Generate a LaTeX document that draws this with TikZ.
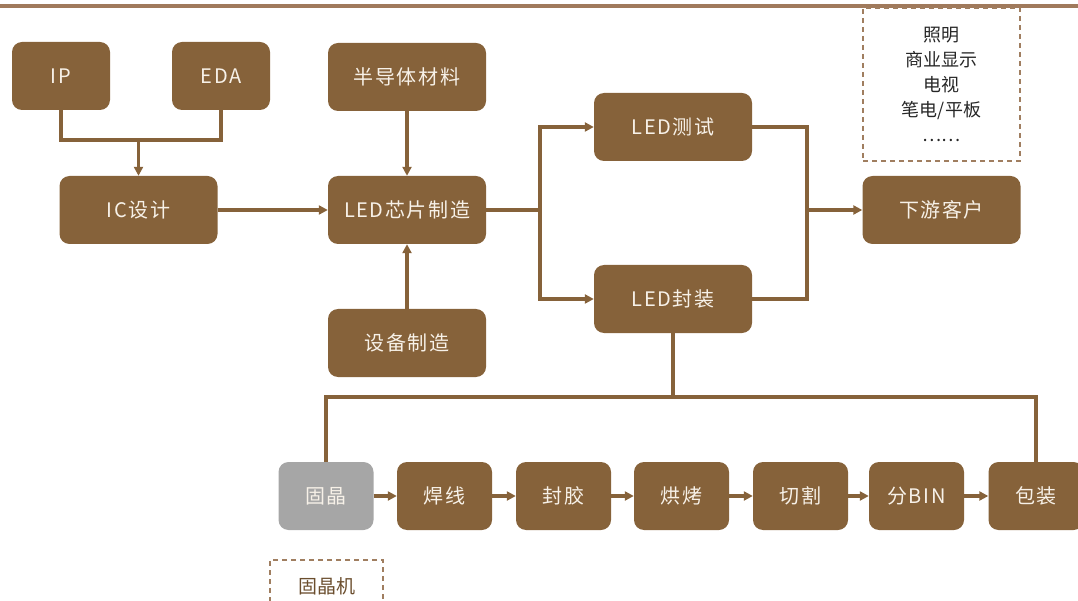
\documentclass[tikz,border=0pt]{standalone}
\usepackage{fontspec}
\setmainfont{Noto Sans CJK SC}
\newfontfamily\bxfont{Noto Sans CJK SC}[LetterSpace=8]
\usetikzlibrary{arrows.meta}
\definecolor{brn}{HTML}{86623A}
\definecolor{gry}{HTML}{A6A6A6}
\definecolor{rulec}{HTML}{A07A5C}
\definecolor{dsh}{HTML}{A07E60}
\definecolor{txt}{HTML}{F7F1E8}
\begin{document}
\begin{tikzpicture}[x=1pt,y=-1pt,
  box/.style={fill=brn, rounded corners=10pt, minimum width=158pt, minimum height=68pt,
    text=txt, font=\bxfont\fontsize{20}{20}\selectfont, inner sep=0pt},
  sbox/.style={box, minimum width=95pt},
  ln/.style={draw=brn, line width=3.5pt},
  arr/.style={ln, -{Triangle[length=9pt,width=9pt]}},
  dbox/.style={draw=dsh, dashed, line width=1.5pt, dash pattern=on 5pt off 4pt, inner sep=0pt}]
\useasboundingbox (0,0) rectangle (1078,601);
\draw[draw=rulec, line width=3.5pt] (0,6) -- (1078,6);

\node[box, minimum width=98pt] (ip) at (61,76) {IP};
\node[box, minimum width=98pt] (eda) at (221,76) {EDA};
\node[box] (semi) at (407,77) {半导体材料};
\node[box] (ic) at (138.5,210) {IC设计};
\node[box] (chip) at (407,210) {LED芯片制造};
\node[box] (equip) at (407,343) {设备制造};
\node[box] (test) at (673,127) {LED测试};
\node[box] (pack) at (673,299) {LED封装};
\node[box] (cust) at (941.5,210) {下游客户};
\node[dbox, minimum width=157pt, minimum height=153pt, align=center, text=black!85,
  font=\fontsize{18}{25}\selectfont] (apps) at (941.5,84.5) {照明\\商业显示\\电视\\笔电/平板\\……};

\node[sbox, fill=gry] (s1) at (326,496) {固晶};
\node[sbox] (s2) at (444.5,496) {焊线};
\node[sbox] (s3) at (563.5,496) {封胶};
\node[sbox] (s4) at (681.5,496) {烘烤};
\node[sbox] (s5) at (800.5,496) {切割};
\node[sbox] (s6) at (916.5,496) {分BIN};
\node[sbox] (s7) at (1036,496) {包装};
\node[dbox, minimum width=113pt, minimum height=52pt, text=brn!80!black,
  font=\fontsize{19}{19}\selectfont] (machine) at (326.5,586) {固晶机};

\coordinate (j1) at (138.5,140);
\draw[ln] (ip.south) |- (j1) -| (eda.south);
\draw[arr] (j1) -- (ic.north);
\draw[arr] (ic) -- (chip);
\draw[arr] (semi) -- (chip);
\draw[arr] (equip) -- (chip);
\coordinate (j2) at (540,210);
\draw[ln] (chip.east) -- (j2);
\draw[arr] (j2) |- (test.west);
\draw[arr] (j2) |- (pack.west);
\coordinate (j3) at (807,210);
\draw[ln] (test.east) -| (j3);
\draw[ln] (pack.east) -| (j3);
\draw[arr] (j3) -- (cust.west);
\coordinate (j4) at (673,397);
\draw[ln] (pack.south) -- (j4);
\draw[ln] (j4) -| (s1.north);
\draw[ln] (j4) -| (s7.north);
\draw[arr] (s1) -- (s2);
\draw[arr] (s2) -- (s3);
\draw[arr] (s3) -- (s4);
\draw[arr] (s4) -- (s5);
\draw[arr] (s5) -- (s6);
\draw[arr] (s6) -- (s7);
\end{tikzpicture}
\end{document}
